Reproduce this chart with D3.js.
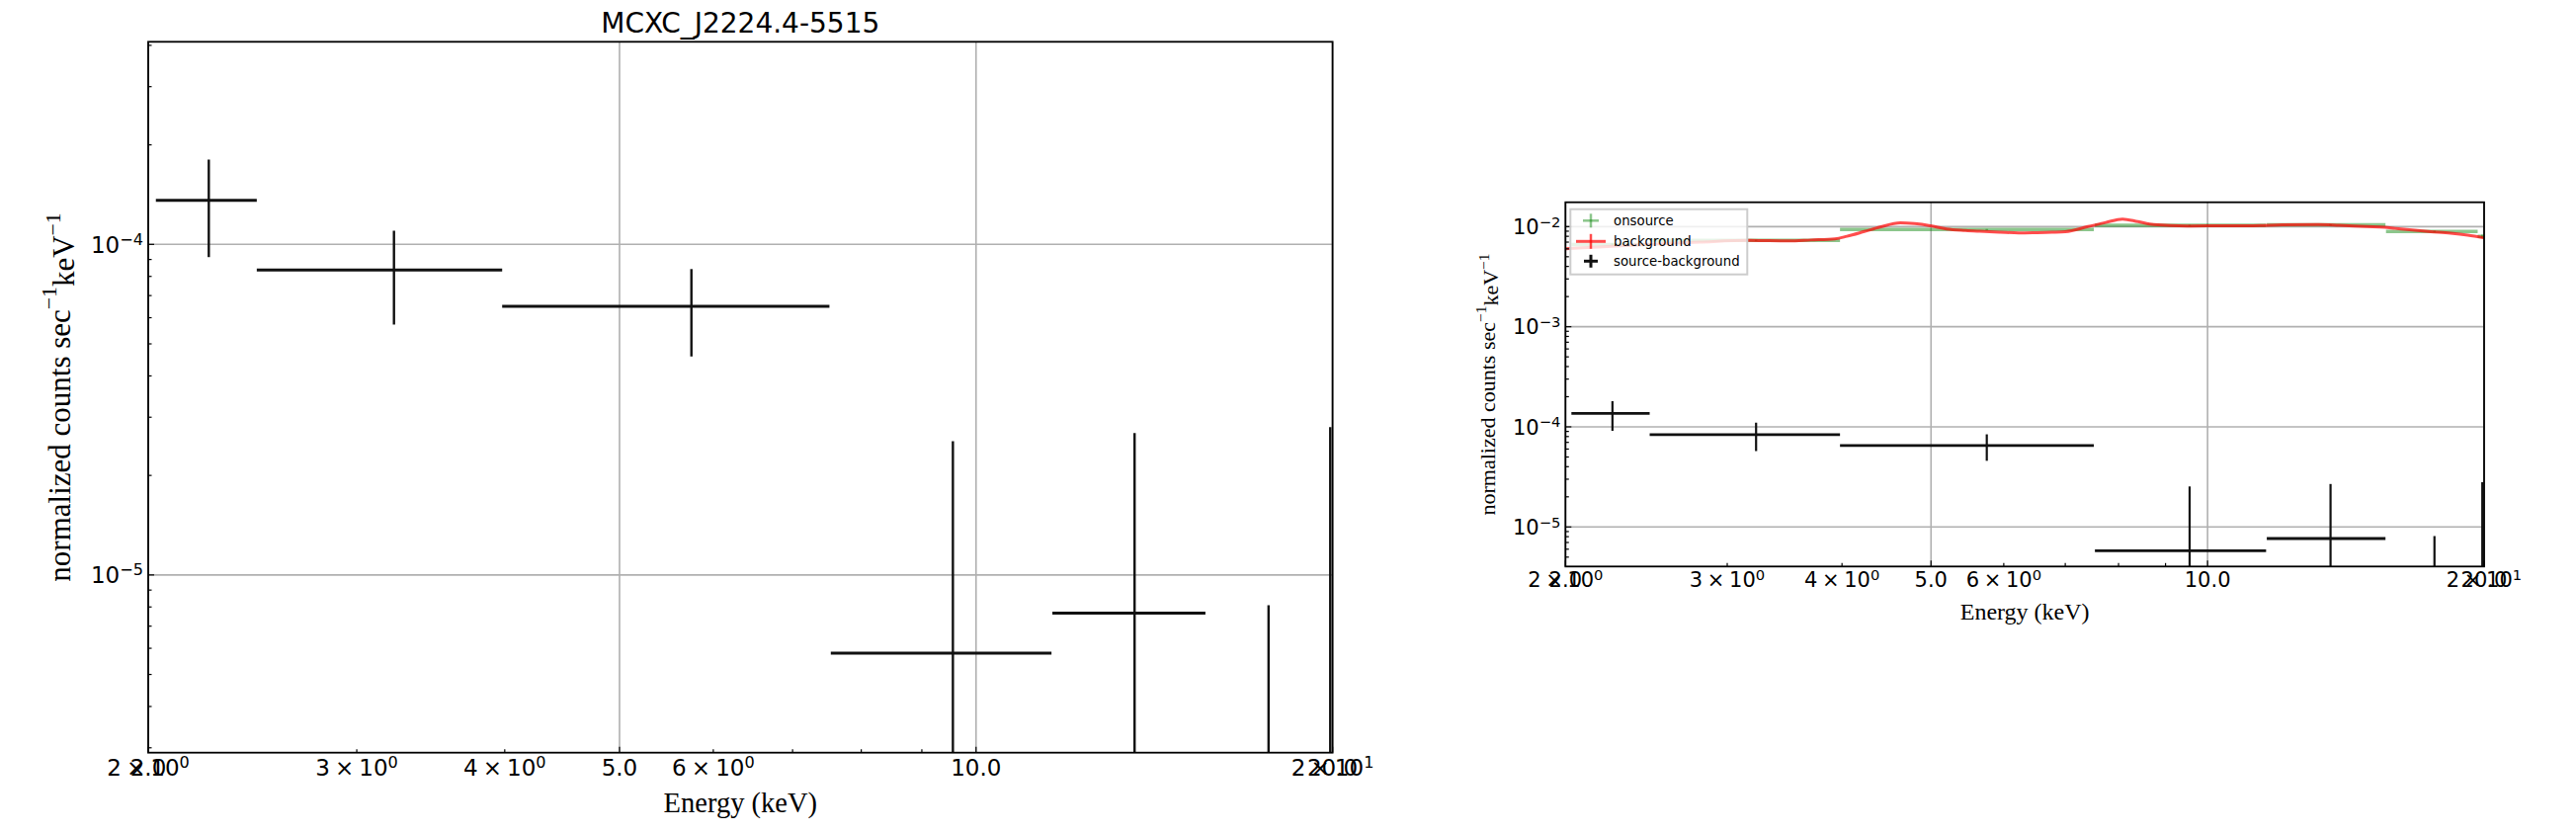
<!DOCTYPE html>
<html><head><meta charset="utf-8">
<script src="https://cdn.jsdelivr.net/npm/d3@7"></script>
<style>body{margin:0;background:#fff;} svg{display:block;}</style>
</head><body>
<svg id="chart" width="2607" height="842"></svg>
<script>
// ---------------- data ----------------
const titleText = "MCXC_J2224.4-5515";
const xLabelText = "Energy (keV)";
// energy bins (keV)
const binLo = [2.03, 2.47, 3.98, 7.54, 11.60, 15.64, 19.68];
const binHi = [2.47, 3.98, 7.52, 11.58, 15.62, 19.68, 20.14];
// source - background
const srcY   = [1.36e-4, 8.36e-5, 6.50e-5, 5.80e-6, 7.67e-6, -1.0e-6, -2.0e-6];
const srcErr = [4.45e-5, 2.64e-5, 1.92e-5, 1.96e-5, 1.92e-5, 9.1e-6, 3.0e-5];
// onsource
const onY   = [6.6e-3, 7.27e-3, 9.35e-3, 1.03e-2, 1.04e-2, 8.93e-3, 8.0e-3];
const onErr = [1.5e-4, 1.2e-4, 1.3e-4, 1.4e-4, 1.5e-4, 1.6e-4, 3.0e-4];
// background (fine binned)
const bgE = [2.0, 2.2, 2.5, 2.8, 3.17, 3.5, 3.7, 3.93, 4.05, 4.23, 4.4, 4.63, 4.8, 4.99, 5.2, 5.45, 5.65, 5.95, 6.23, 6.5, 6.77, 7.0, 7.41, 7.75, 8.08, 8.4, 8.74, 9.5, 10.45, 11.2, 12.06, 13.2, 13.9, 14.9, 15.58, 16.0, 16.93, 17.5, 18.39, 19.2, 20.0];
const bgY = [6.02e-3, 6.3e-3, 6.7e-3, 7.0e-3, 7.27e-3, 7.2e-3, 7.35e-3, 7.54e-3, 8.0e-3, 8.93e-3, 9.9e-3, 1.09e-2, 1.07e-2, 1.02e-2, 9.47e-3, 9.15e-3, 8.99e-3, 8.8e-3, 8.65e-3, 8.7e-3, 8.78e-3, 8.9e-3, 1.0e-2, 1.1e-2, 1.19e-2, 1.12e-2, 1.046e-2, 1.014e-2, 1.02e-2, 1.02e-2, 1.04e-2, 1.046e-2, 1.03e-2, 1.0e-2, 9.84e-3, 9.6e-3, 9.13e-3, 8.9e-3, 8.59e-3, 8.2e-3, 7.7e-3];
// ticks
const xDomain = [2, 20];
const xMajorTicks = [2, 5, 10, 20];
const xMajorLabels = ["2.0", "5.0", "10.0", "20.0"];
const xMinorTicks = [3, 4, 6, 7, 8, 9];
const xSciTicks = [2, 3, 4, 6, 20];
const xSciMant = ["2", "3", "4", "6", "2"];
const xSciExp = ["0", "0", "0", "0", "1"];
const yLeftDomain = [2.9e-6, 4.1e-4];
const yRightDomain = [4.03e-6, 1.75e-2];
const yLeftMajor = [1e-5, 1e-4];
const yRightMajor = [1e-5, 1e-4, 1e-3, 1e-2];
const legendLabels = ["onsource", "background", "source-background"];

// ---------------- drawing ----------------
const svg = d3.select("#chart");
const SANS = "DejaVu Sans, sans-serif";
const SERIF = "Liberation Serif, Times New Roman, serif";

const panels = [
  {id: "L", x0: 150, x1: 1348.6, y0: 42.3, y1: 761.7, yDomain: yLeftDomain, yMajor: yLeftMajor,
   tickFont: 23, xtickDy: 23.3, xlabelFont: 28.5, xlabelY: 822, ylabelFont: 31, ylabelX: 60,
   showBg: false, hW: 3, vW: 2.4, title: true, legend: false},
  {id: "R", x0: 1584.3, x1: 2514, y0: 204.7, y1: 573.3, yDomain: yRightDomain, yMajor: yRightMajor,
   tickFont: 21, xtickDy: 20.7, xlabelFont: 24, xlabelY: 627, ylabelFont: 22, ylabelX: 1505,
   showBg: true, hW: 2.8, vW: 2.2, title: false, legend: true}
];

function supExp(e) { return e.replace("-", "\u2212"); }

panels.forEach(p => {
  const x = d3.scaleLog().domain(xDomain).range([p.x0, p.x1]);
  const y = d3.scaleLog().domain(p.yDomain).range([p.y1, p.y0]);
  const g = svg.append("g");
  const clipId = "clip" + p.id;
  svg.append("defs").append("clipPath").attr("id", clipId)
    .append("rect").attr("x", p.x0).attr("y", p.y0).attr("width", p.x1 - p.x0).attr("height", p.y1 - p.y0);

  // grid
  const grid = g.append("g").attr("stroke", "#b0b0b0").attr("stroke-width", 1.6);
  xMajorTicks.forEach(t => grid.append("line").attr("x1", x(t)).attr("x2", x(t)).attr("y1", p.y0).attr("y2", p.y1));
  p.yMajor.forEach(t => grid.append("line").attr("x1", p.x0).attr("x2", p.x1).attr("y1", y(t)).attr("y2", y(t)));

  const data = g.append("g").attr("clip-path", `url(#${clipId})`);
  const ylo = v => (v <= p.yDomain[0] ? p.y1 + 5 : y(v));

  if (p.showBg) {
    // onsource (green)
    const on = data.append("g").attr("stroke", "green").attr("stroke-opacity", 0.45).attr("fill", "none");
    binLo.forEach((lo, i) => {
      on.append("line").attr("x1", x(lo)).attr("x2", x(binHi[i])).attr("y1", y(onY[i])).attr("y2", y(onY[i])).attr("stroke-width", 3.5);
      const xc = x((lo + binHi[i]) / 2);
      on.append("line").attr("x1", xc).attr("x2", xc).attr("y1", y(onY[i] + onErr[i])).attr("y2", y(onY[i] - onErr[i])).attr("stroke-width", 2.5);
    });
    // background (red)
    const line = d3.line().x((d, i) => x(bgE[i])).y((d, i) => y(bgY[i])).curve(d3.curveMonotoneX);
    data.append("path").attr("d", line(bgY)).attr("fill", "none").attr("stroke", "red")
      .attr("stroke-opacity", 0.7).attr("stroke-width", 3);
  }

  // source-background (black)
  const src = data.append("g").attr("stroke", "#111").attr("fill", "none");
  binLo.forEach((lo, i) => {
    const xc = x((lo + binHi[i]) / 2);
    if (srcY[i] > 0) {
      src.append("line").attr("x1", x(lo)).attr("x2", x(binHi[i])).attr("y1", y(srcY[i])).attr("y2", y(srcY[i])).attr("stroke-width", p.hW);
    }
    src.append("line").attr("x1", xc).attr("x2", xc)
      .attr("y1", y(srcY[i] + srcErr[i])).attr("y2", ylo(srcY[i] - srcErr[i])).attr("stroke-width", p.vW);
  });

  // frame
  g.append("rect").attr("x", p.x0).attr("y", p.y0).attr("width", p.x1 - p.x0).attr("height", p.y1 - p.y0)
    .attr("fill", "none").attr("stroke", "#000").attr("stroke-width", 1.8);

  // ticks (inward)
  const tk = g.append("g").attr("stroke", "#000").attr("stroke-width", 1.2);
  xMajorTicks.forEach(t => tk.append("line").attr("x1", x(t)).attr("x2", x(t)).attr("y1", p.y1).attr("y2", p.y1 - 6));
  xMinorTicks.forEach(t => tk.append("line").attr("x1", x(t)).attr("x2", x(t)).attr("y1", p.y1).attr("y2", p.y1 - 3.5));
  p.yMajor.forEach(t => tk.append("line").attr("x1", p.x0).attr("x2", p.x0 + 6).attr("y1", y(t)).attr("y2", y(t)));
  const dLo = Math.floor(Math.log10(p.yDomain[0])), dHi = Math.ceil(Math.log10(p.yDomain[1]));
  for (let d = dLo; d <= dHi; d++) {
    for (let k = 2; k <= 9; k++) {
      const v = k * Math.pow(10, d);
      if (v > p.yDomain[0] && v < p.yDomain[1])
        tk.append("line").attr("x1", p.x0).attr("x2", p.x0 + 3.5).attr("y1", y(v)).attr("y2", y(v));
    }
  }

  // x tick labels
  const xl = g.append("g").attr("font-family", SANS).attr("font-size", p.tickFont).attr("fill", "#000").attr("text-anchor", "middle");
  xMajorTicks.forEach((t, i) => xl.append("text").attr("x", x(t)).attr("y", p.y1 + p.xtickDy).text(xMajorLabels[i]));
  xSciTicks.forEach((t, i) => {
    const tx = xl.append("text").attr("x", x(t)).attr("y", p.y1 + p.xtickDy);
    tx.append("tspan").text(xSciMant[i]);
    tx.append("tspan").attr("dx", "0.22em").text("\u00d7");
    tx.append("tspan").attr("dx", "0.22em").text("10");
    tx.append("tspan").attr("dy", "-0.48em").attr("font-size", "70%").text(xSciExp[i]);
  });

  // y tick labels
  const yl = g.append("g").attr("font-family", SANS).attr("font-size", p.tickFont).attr("fill", "#000").attr("text-anchor", "end");
  p.yMajor.forEach(t => {
    const e = Math.round(Math.log10(t));
    const tx = yl.append("text").attr("x", p.x0 - 5).attr("y", y(t) + 0.37 * p.tickFont);
    tx.append("tspan").text("10");
    tx.append("tspan").attr("dy", "-0.5em").attr("font-size", "70%").text(supExp(String(e)));
  });

  // axis labels
  g.append("text").attr("x", (p.x0 + p.x1) / 2).attr("y", p.xlabelY).attr("text-anchor", "middle")
    .attr("font-family", SERIF).attr("font-size", p.xlabelFont).text(xLabelText);
  const ylab = g.append("text").attr("transform", `translate(${p.ylabelX},${(p.y0 + p.y1) / 2}) rotate(-90)`)
    .attr("text-anchor", "middle").attr("dominant-baseline", "central")
    .attr("font-family", SERIF).attr("font-size", p.ylabelFont);
  ylab.append("tspan").text("normalized counts sec");
  ylab.append("tspan").attr("dy", "-0.45em").attr("font-size", "70%").text("\u22121");
  ylab.append("tspan").attr("dy", "0.45em").text("keV");
  ylab.append("tspan").attr("dy", "-0.45em").attr("font-size", "70%").text("\u22121");

  if (p.title) {
    g.append("text").attr("x", (p.x0 + p.x1) / 2).attr("y", 33).attr("text-anchor", "middle")
      .attr("font-family", SANS).attr("font-size", 28).text(titleText);
  }

  if (p.legend) {
    const lg = g.append("g");
    lg.append("rect").attr("x", 1589.3).attr("y", 211.7).attr("width", 179).attr("height", 66)
      .attr("fill", "#fff").attr("fill-opacity", 0.8).attr("stroke", "#cccccc").attr("stroke-width", 2);
    const rows = [223.3, 244.3, 264.3];
    const cx = 1610;
    // onsource handle
    lg.append("line").attr("x1", cx - 8).attr("x2", cx + 8).attr("y1", rows[0]).attr("y2", rows[0]).attr("stroke", "green").attr("stroke-opacity", 0.45).attr("stroke-width", 2.5);
    lg.append("line").attr("x1", cx).attr("x2", cx).attr("y1", rows[0] - 7).attr("y2", rows[0] + 7).attr("stroke", "green").attr("stroke-opacity", 0.45).attr("stroke-width", 2.5);
    // background handle
    lg.append("line").attr("x1", cx - 15).attr("x2", cx + 15).attr("y1", rows[1]).attr("y2", rows[1]).attr("stroke", "red").attr("stroke-opacity", 0.7).attr("stroke-width", 3);
    lg.append("line").attr("x1", cx).attr("x2", cx).attr("y1", rows[1] - 7.5).attr("y2", rows[1] + 7.5).attr("stroke", "red").attr("stroke-opacity", 0.7).attr("stroke-width", 2.5);
    // source-background handle
    lg.append("line").attr("x1", cx - 7).attr("x2", cx + 7).attr("y1", rows[2]).attr("y2", rows[2]).attr("stroke", "#111").attr("stroke-width", 3);
    lg.append("line").attr("x1", cx).attr("x2", cx).attr("y1", rows[2] - 6.5).attr("y2", rows[2] + 6.5).attr("stroke", "#111").attr("stroke-width", 3);
    legendLabels.forEach((s, i) => lg.append("text").attr("x", 1633).attr("y", rows[i]).attr("dominant-baseline", "central")
      .attr("font-family", SANS).attr("font-size", 13.3).text(s));
  }
});
</script>
</body></html>
